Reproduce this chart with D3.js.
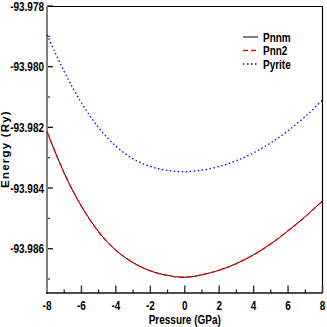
<!DOCTYPE html>
<meta charset="utf-8">
<script src="https://d3js.org/d3.v7.min.js"></script>
<style>
  body { margin: 0; background: #fff; }
  text { font-family: "Liberation Sans", Arial, sans-serif; font-weight: bold; }
</style>
<div id="chart"></div>
<script>
// data
var pressure = [-8, -7, -6, -5, -4, -3, -2, -1, 0, 1, 2, 3, 4, 5, 6, 7, 8];
var pnnm = [-93.98214, -93.98351, -93.98460, -93.98544, -93.98605, -93.98646, -93.98673, -93.98688,
            -93.98694, -93.98686, -93.98671, -93.98649, -93.98620, -93.98584, -93.98541, -93.98494, -93.98442];
var pnn2 = [-93.98215, -93.98351, -93.98460, -93.98545, -93.98605, -93.98646, -93.98673, -93.98688,
            -93.98694, -93.98686, -93.98671, -93.98649, -93.98620, -93.98584, -93.98541, -93.98494, -93.98443];
var pyrite = [-93.97895, -93.98016, -93.98119, -93.98201, -93.98262, -93.98304, -93.98329, -93.98342,
              -93.98346, -93.98341, -93.98329, -93.98310, -93.98284, -93.98251, -93.98211, -93.98164, -93.98110];
var seriesNames = ["Pnnm", "Pnn2", "Pyrite"];
var xTicks = [-8, -6, -4, -2, 0, 2, 4, 6, 8];
var yTicks = [-93.978, -93.980, -93.982, -93.984, -93.986];

var W = 327, H = 327;
var pLeft = 47, pRight = 322.5, pTop = 6, pBottom = 293;
var squeeze = 0.8; // the fonts in the picture are condensed

var svg = d3.select("#chart").append("svg")
    .attr("width", W).attr("height", H);

var x = d3.scaleLinear().domain([-8, 8]).range([pLeft, pRight]);
var y = d3.scaleLinear().domain([-93.98746, -93.978]).range([pBottom, pTop]);

function label(g, tx, ty, str, anchor, size) {
  return g.append("text")
    .attr("transform", "translate(" + tx + "," + ty + ") scale(" + squeeze + ",1)")
    .attr("text-anchor", anchor)
    .style("font-size", size + "px")
    .text(str);
}

// frame (top and right)
svg.append("line").attr("x1", pLeft).attr("x2", pRight).attr("y1", pTop + 0.5).attr("y2", pTop + 0.5)
    .attr("stroke", "#000").attr("stroke-width", 1);
svg.append("line").attr("x1", pRight).attr("x2", pRight).attr("y1", pTop).attr("y2", pBottom)
    .attr("stroke", "#000").attr("stroke-width", 1.2);

// minor ticks
var xMinor = d3.range(-7, 8, 2);
var yMinor = [-93.979, -93.981, -93.983, -93.985, -93.987];

svg.selectAll(".xmin").data(xMinor).enter().append("line")
    .attr("x1", d => x(d)).attr("x2", d => x(d))
    .attr("y1", pBottom).attr("y2", pBottom - 3.5)
    .attr("stroke", "#222").attr("stroke-width", 1.2);
svg.selectAll(".xmaj").data(xTicks).enter().append("line")
    .attr("x1", d => x(d)).attr("x2", d => x(d))
    .attr("y1", pBottom).attr("y2", pBottom - 7.5)
    .attr("stroke", "#333").attr("stroke-width", 1.4);
svg.selectAll(".ymin").data(yMinor).enter().append("line")
    .attr("x1", pLeft).attr("x2", pLeft + 3)
    .attr("y1", d => y(d)).attr("y2", d => y(d))
    .attr("stroke", "#333").attr("stroke-width", 1.2);
svg.selectAll(".ymaj").data(yTicks).enter().append("line")
    .attr("x1", pLeft).attr("x2", pLeft + 6)
    .attr("y1", d => y(d)).attr("y2", d => y(d))
    .attr("stroke", "#111").attr("stroke-width", 1.3);

// axis lines
svg.append("line").attr("x1", pLeft).attr("x2", pLeft).attr("y1", pTop).attr("y2", pBottom + 1)
    .attr("stroke", "#808080").attr("stroke-width", 2);
svg.append("line").attr("x1", pLeft - 1).attr("x2", pRight).attr("y1", pBottom).attr("y2", pBottom)
    .attr("stroke", "#111").attr("stroke-width", 1.6);

// tick labels
xTicks.forEach(function(d) {
  label(svg, x(d), 310, d, "middle", 12.5);
});
yTicks.forEach(function(d) {
  label(svg, 44, y(d) + 4.5, d.toFixed(3), "end", 12.5);
});

// axis titles
label(svg, x(0), 324, "Pressure (GPa)", "middle", 12.5);
svg.append("text")
    .attr("transform", "translate(9,149) rotate(-90)")
    .attr("text-anchor", "middle")
    .style("font-size", "11.5px")
    .style("letter-spacing", "1.2px")
    .text("Energy (Ry)");

// curves
var line = d3.line()
    .x((d, i) => x(pressure[i]))
    .y(d => y(d))
    .curve(d3.curveNatural);

var styles = [
  {color: "#000", dash: null, width: 1, data: pnnm},
  {color: "#ff0000", dash: "5,3", width: 1.3, data: pnn2},
  {color: "#0000ff", dash: "1.5,2.5", width: 1.3, data: pyrite}
];

styles.forEach(function(s) {
  svg.append("path")
    .attr("d", line(s.data))
    .attr("fill", "none")
    .attr("stroke", s.color)
    .attr("stroke-width", s.width)
    .attr("stroke-dasharray", s.dash);
});

// legend
var legend = svg.append("g");
seriesNames.forEach(function(name, i) {
  var ly = 37 + i * 13.5;
  legend.append("line")
    .attr("x1", 243).attr("x2", 258)
    .attr("y1", ly).attr("y2", ly)
    .attr("stroke", styles[i].color).attr("stroke-width", styles[i].width)
    .attr("stroke-dasharray", styles[i].dash);
  label(legend, 263, ly + 4.5, name, "start", 12.5);
});
</script>
